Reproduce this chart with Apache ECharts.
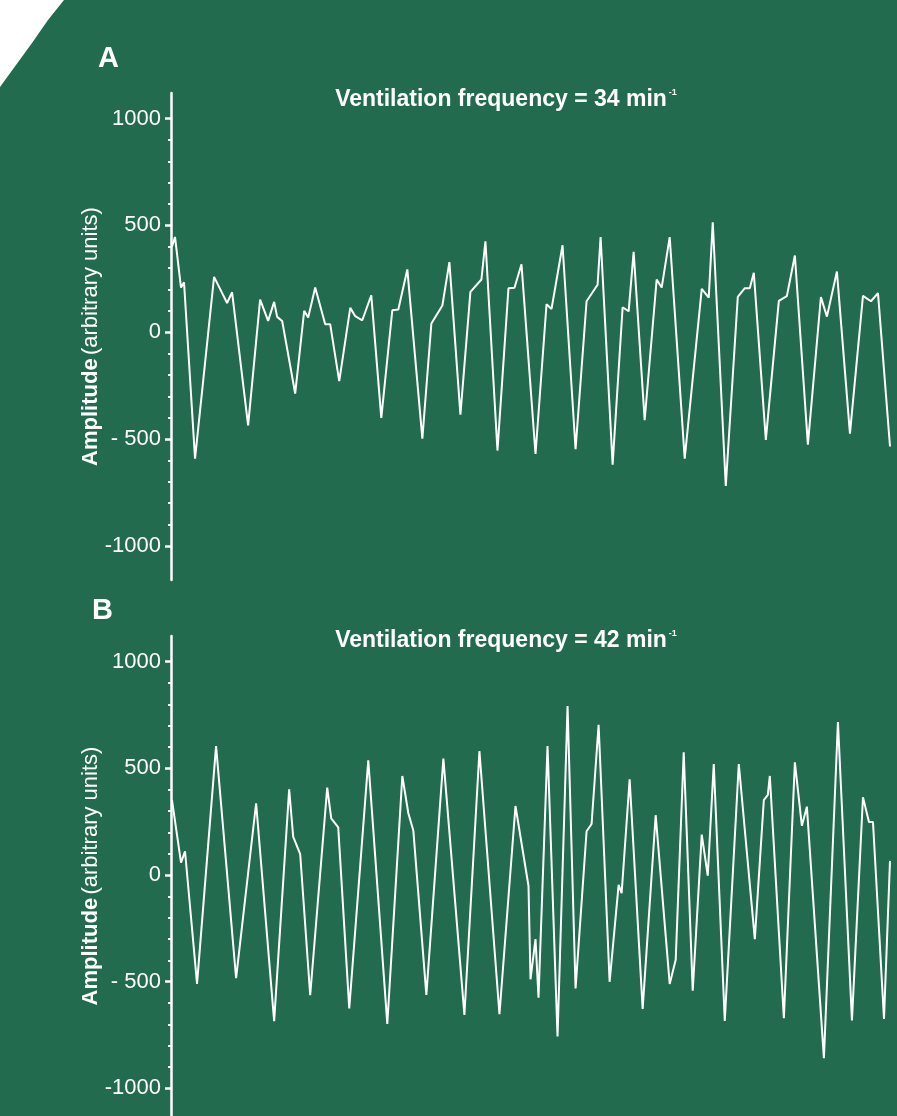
<!DOCTYPE html>
<html>
<head>
<meta charset="utf-8">
<script src="https://cdn.jsdelivr.net/npm/echarts@6/dist/echarts.min.js"></script>
<style>
  html, body { margin: 0; padding: 0; background: #226b4f; }
  #main { width: 897px; height: 1116px; }
</style>
</head>
<body>
<div id="main"></div>
<script>
// panel A, 34 breaths per min (t = sample position, amp = arbitrary units)
var tA = [1, 4, 10, 13, 24, 43, 56, 61, 77, 89, 97, 103, 106, 111, 124, 133, 137, 144, 154, 159,
  168, 179, 184, 191, 200, 210, 221, 227, 236, 251, 260, 271, 278, 289, 299, 310, 314, 326, 337, 343,
  350, 364, 375, 380, 391, 404, 415, 426, 429, 441, 451, 457, 462, 473, 485, 490, 498, 513, 530, 537,
  541, 554, 566, 573, 578, 582, 594, 607, 615, 623, 636, 649, 655, 665, 678, 691, 699, 706, 718];
var ampA = [400, 446, 209, 234, -592, 259, 137, 187, -436, 153, 53, 142, 72, 53, -287, 100, 69, 209, 37, 37,
  -229, 114, 75, 56, 173, -401, 103, 106, 294, -498, 41, 125, 328, -386, 189, 247, 426, -554, 206, 208,
  318, -570, 131, 109, 407, -548, 145, 222, 445, -620, 117, 98, 376, -412, 247, 209, 445, -592, 203, 162,
  515, -720, 165, 206, 206, 278, -504, 147, 169, 359, -526, 165, 73, 284, -475, 170, 145, 183, -535];

// panel B, 42 breaths per min
var tB = [1, 10, 14, 26, 45, 65, 85, 103, 118, 122, 129, 139, 156, 160, 167, 178, 197, 216, 231, 237,
  242, 255, 272, 293, 308, 328, 344, 357, 359, 364, 367, 376, 386, 396, 404, 415, 420, 427, 438, 447,
  450, 458, 471, 484, 498, 504, 512, 521, 530, 536, 542, 553, 567, 583, 592, 596, 598, 612, 623, 630,
  635, 652, 666, 680, 691, 697, 701, 712, 718];
var ampB = [351, 58, 111, -511, 604, -484, 336, -685, 401, 180, 98, -564, 409, 265, 223, -626, 537, -698, 464, 289,
  208, -562, 545, -656, 581, -653, 323, -52, -489, -301, -575, 604, -757, 792, -532, 205, 239, 704, -501, -47,
  -86, 448, -628, 280, -511, -398, 575, -543, 189, -3, 520, -684, 520, -301, 351, 375, 464, -672, 528, 230,
  320, -859, 717, -682, 364, 248, 248, -675, 66];

var majorTicks = [-1000, -500, 0, 500, 1000];
var minorTicks = [-900, -800, -700, -600, -400, -300, -200, -100, 100, 200, 300, 400, 600, 700, 800, 900];
var titles = ["34", "42"];
var panelLabels = ["A", "B"];

function pairs(t, v) {
  return t.map(function (x, i) { return [x, v[i]]; });
}

var chart = echarts.init(document.getElementById("main"));

var grids = [
  { left: 171, top: 93, width: 719, height: 487 },
  { left: 171, top: 636, width: 719, height: 480 }
];
var ranges = [[-1160, 1120], [-1130, 1120]];

var xAxes = [], yAxes = [], series = [], titleList = [];
grids.forEach(function (g, i) {
  xAxes.push({ type: "value", gridIndex: i, min: 0, max: 718, show: false });
  // main axis: line, big ticks, labels, name
  yAxes.push({
    type: "value", gridIndex: i, position: "left", min: ranges[i][0], max: ranges[i][1],
    splitLine: { show: false },
    axisLine: { show: true, lineStyle: { color: "#fff", width: 2.5 } },
    axisTick: { show: true, length: 6, customValues: majorTicks, lineStyle: { color: "#fff", width: 2.5 } },
    axisLabel: {
      customValues: majorTicks, margin: 10, color: "#fff", fontSize: 22,
      fontFamily: "Liberation Sans",
      formatter: function (v) { return v === -500 ? "- 500" : String(v); }
    },
    name: "{b|Amplitude} {n|(arbitrary units)}",
    nameLocation: "middle", nameRotate: 90, nameGap: 69, nameMoveOverlap: false,
    nameTextStyle: {
      rich: {
        b: { color: "#fff", fontSize: 22, fontWeight: "bold", fontFamily: "Liberation Sans" },
        n: { color: "#fff", fontSize: 22, fontFamily: "Liberation Sans" }
      }
    }
  });
  // small ticks every 100
  yAxes.push({
    type: "value", gridIndex: i, position: "left", offset: 0, min: ranges[i][0], max: ranges[i][1],
    splitLine: { show: false }, axisLine: { show: false }, axisLabel: { show: false },
    axisTick: { show: true, length: 3, customValues: minorTicks, lineStyle: { color: "#fff", width: 2 } }
  });
  series.push({
    type: "line", xAxisIndex: i, yAxisIndex: i * 2,
    data: i === 0 ? pairs(tA, ampA) : pairs(tB, ampB),
    showSymbol: false, animation: false,
    lineStyle: { color: "#fff", width: 2 }
  });
  titleList.push({
    text: "{t|Ventilation frequency = " + titles[i] + " min}{s|-1}",
    left: 501, top: i === 0 ? 83 : 624, textAlign: "center",
    textStyle: {
      rich: {
        t: { color: "#fff", fontSize: 23, fontWeight: "bold", fontFamily: "Liberation Sans" },
        s: { color: "#fff", fontSize: 9, fontFamily: "Liberation Sans", verticalAlign: "top", padding: [0, 0, 0, 2] }
      }
    }
  });
  titleList.push({
    text: panelLabels[i], left: i === 0 ? 93 : 87, top: i === 0 ? 39 : 591,
    textStyle: { color: "#fff", fontSize: 29, fontWeight: "bold", fontFamily: "Liberation Sans" }
  });
});

var option = {
  backgroundColor: "#226b4f",
  animation: false,
  title: titleList,
  grid: grids,
  xAxis: xAxes,
  yAxis: yAxes,
  series: series,
  graphic: [
    {
      // white slide corner in the top left
      type: "polygon", silent: true,
      shape: { points: [[0, 0], [64, 0], [48, 20], [32, 43], [16, 65], [0, 87]] },
      style: { fill: "#ffffff" }
    }
  ]
};

chart.setOption(option);
</script>
</body>
</html>
